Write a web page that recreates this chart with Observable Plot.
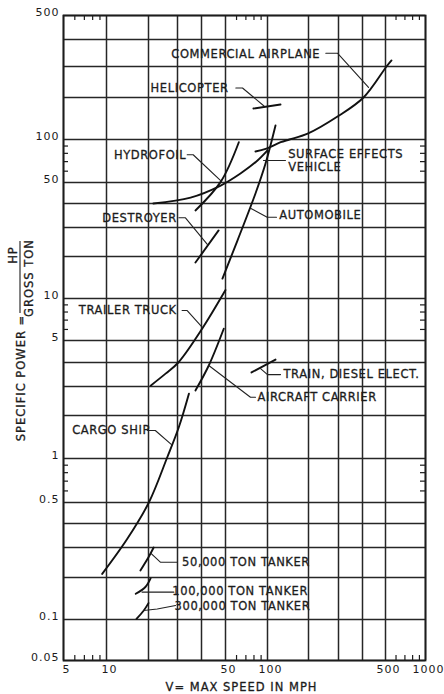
<!DOCTYPE html>
<html><head><meta charset="utf-8">
<script src="https://cdn.jsdelivr.net/npm/d3@7"></script>
<script src="https://cdn.jsdelivr.net/npm/@observablehq/plot@0.6"></script>
<style>
html,body{margin:0;padding:0;background:#fff;}
#chart svg{display:block;}
</style></head><body><div id="chart"></div>
<script>
// ---- grid / ticks ----
const xGrid = [5,10,20,30,40,50,100,200,300,400,500,1000];
const yGrid = [0.05,0.1,0.2,0.3,0.4,0.5,1,2,3,4,5,10,20,30,40,50,100,200,300,400,500];
const xTickLabels = [5,10,50,100,500,1000];
const yTickLabels = [0.05,0.1,0.5,1,5,10,50,100,500];
const xMinor = [6,7,8,9,60,70,80,90,600,700,800,900];
const yMinor = [0.6,0.7,0.8,0.9,6,7,8,9,60,70,80,90];

// ---- curves: [speed (mph), specific power (HP / gross ton)] ----
const commercialAirplane = [[82,82.4],[97,86],[125,95.7],[145,100],[197,110],[296,146],[404,200],[509,300],[555,320]];
const surfaceEffectsVehicle = [[21.4,40],[35.1,42.6],[47.8,48.4],[64,57.8],[84.8,71.2],[100,83.8]];
const helicopter = [[79.3,166.7],[124.6,178]];
const hydrofoil = [[37.2,36.8],[47.8,50.5],[62.3,95.7]];
const destroyer = [[37.2,18.1],[46.9,28.8]];
const automobile = [[48.6,13.9],[60.9,25],[82,44.5],[96.8,67.9],[114.5,126]];
const trailerTruck = [[20.6,3.03],[25.4,3.5],[30.3,4.0],[40.3,6.1],[50,11.5]];
const aircraftCarrier = [[37.2,2.84],[42.8,3.86],[49.2,6.07]];
const trainDieselElect = [[76.8,3.55],[114.5,4.12]];
const cargoShip = [[9.33,0.21],[14.1,0.333],[20.1,0.5],[26,1.02],[30.5,1.66],[34.4,2.71]];
const tanker50k = [[17.5,0.22],[20,0.263],[21.5,0.3]];
const tanker100k = [[16.2,0.153],[19,0.171],[20.6,0.197]];
const tanker300k = [[16.4,0.101],[18.5,0.116],[20,0.131]];

// ---- leader lines (same units) ----
const airplaneLeader = [[252.7,345.6],[295.8,345.6],[424,228]];
const helicopterLeader = [[59.3,226.5],[66.2,226.5],[94.4,173.8]];
const hydrofoilLeader = [[33.7,78.2],[36.2,78.2],[47.8,51.6]];
const sevLeader = [[135.5,71.2],[93.6,71.2]];
const destroyerLeader = [[30.5,33.7],[33,33.7],[42.3,23.6]];
const automobileLeader = [[116.4,33.9],[99.5,33.9],[75.5,37.8]];
const truckLeader = [[31.7,8.2],[33.7,8.2],[40.3,6.2]];
const carrierLeader = [[42.8,3.86],[75.5,2.58],[82,2.58]];
const trainLeader = [[89.2,3.72],[100,3.46],[124.6,3.46]];
const cargoLeader = [[19.6,1.57],[22,1.57],[27.6,1.25]];
const tanker50Leader = [[20.7,0.277],[23.6,0.246],[29.9,0.246]];
const tanker100Leader = [[18,0.157],[28.5,0.157]];
const tanker300Leader = [[18.5,0.116],[22.6,0.119],[29.2,0.126]];

// ---- labels ----
const labelText = ["COMMERCIAL AIRPLANE","HELICOPTER","HYDROFOIL","SURFACE EFFECTS","VEHICLE","DESTROYER","AUTOMOBILE","TRAILER TRUCK","TRAIN, DIESEL ELECT.","AIRCRAFT CARRIER","CARGO SHIP","50,000 TON TANKER","100,000 TON TANKER","300,000 TON TANKER"];
const labelSpeed = [27.5,20.6,11.3,141.9,141.9,9.33,121.8,6.4,131,84.7,5.75,31.7,27.9,28.8];
const labelPower = [340,225,76.9,78.5,63.7,33.5,34.6,8.2,3.46,2.58,1.57,0.246,0.16,0.1245];

const xTitle = "V= MAX SPEED IN MPH";
const yTitle = "SPECIFIC POWER =";
const yTitleNum = "HP";
const yTitleDen = "GROSS TON";

// ---- tables ----
const curves = [
  ["Commercial airplane", commercialAirplane],["Surface effects vehicle", surfaceEffectsVehicle],
  ["Helicopter", helicopter],["Hydrofoil", hydrofoil],["Destroyer", destroyer],["Automobile", automobile],
  ["Trailer truck", trailerTruck],["Aircraft carrier", aircraftCarrier],["Train", trainDieselElect],
  ["Cargo ship", cargoShip],["50,000 ton tanker", tanker50k],["100,000 ton tanker", tanker100k],["300,000 ton tanker", tanker300k]
].flatMap(([name, pts]) => pts.map(([v, p]) => ({name, v, p})));

const leaders = [airplaneLeader,helicopterLeader,hydrofoilLeader,sevLeader,destroyerLeader,automobileLeader,
  truckLeader,carrierLeader,trainLeader,cargoLeader,tanker50Leader,tanker100Leader,tanker300Leader]
  .flatMap((pts, i) => pts.map(([v, p]) => ({id: i, v, p})));

const labels = labelText.map((t, i) => ({t, v: labelSpeed[i], p: labelPower[i]}));

const ink = "#1c1c1c";
const FONT = "DejaVu Sans";
const titleStyle = {fontSize: 11.5, fill: ink, stroke: ink, strokeWidth: 0.3, textAnchor: "middle", lineAnchor: "middle"};

const plot = Plot.plot({
  width: 444, height: 694,
  marginLeft: 63, marginRight: 19, marginTop: 15, marginBottom: 34,
  style: {fontFamily: FONT, fontSize: "11px", color: ink, background: "#fff", letterSpacing: "1px"},
  x: {type: "log", domain: xGrid, range: [63,106,148,177,201,225,267,308,338,362,385,425], axis: null},
  y: {type: "log", domain: yGrid, range: [660,619,577,547,523,502,458,415,386,362,340,298,256,227,203,182,139,97,66,39,15], axis: null},
  marks: [
    Plot.ruleX(xGrid, {stroke: "#262626", strokeWidth: 1.5}),
    Plot.ruleY(yGrid, {stroke: "#262626", strokeWidth: 1.5}),
    Plot.tickX(xMinor, {stroke: ink, strokeWidth: 1.2, insetTop: 640}),
    Plot.tickX(xMinor, {stroke: ink, strokeWidth: 1.2, insetBottom: 640}),
    Plot.tickY(yMinor, {stroke: ink, strokeWidth: 1.2, insetRight: 357}),
    Plot.tickY(yMinor, {stroke: ink, strokeWidth: 1.2, insetLeft: 357}),
    Plot.frame({stroke: ink, strokeWidth: 1.8}),
    Plot.line(curves, {x: "v", y: "p", z: "name", curve: "catmull-rom", stroke: "#111", strokeWidth: 1.9}),
    Plot.line(leaders, {x: "v", y: "p", z: "id", stroke: "#222", strokeWidth: 1.1}),
    Plot.text(labels, {x: "v", y: "p", text: "t", textAnchor: "start", lineAnchor: "middle", fontSize: 11.5, fill: ink, stroke: ink, strokeWidth: 0.3}),
    Plot.axisX(xTickLabels, {anchor: "bottom", tickSize: 0, tickPadding: 5, dx: 3, text: d => String(d), label: null, fontSize: 11, fill: ink}),
    Plot.axisY(yTickLabels, {anchor: "left", tickSize: 0, tickPadding: 4, dy: -3, text: d => String(d), label: null, fontSize: 11, fill: ink}),
    Plot.text([xTitle], {frameAnchor: "bottom", dx: -3, dy: 27, ...titleStyle}),
    Plot.text([yTitle], {frameAnchor: "left", rotate: -90, dx: -42, dy: 40, ...titleStyle}),
    Plot.text([yTitleNum], {frameAnchor: "left", rotate: -90, dx: -50, dy: -83, ...titleStyle}),
    Plot.text([yTitleDen], {frameAnchor: "left", rotate: -90, dx: -34, dy: -60, ...titleStyle})
  ]
});

// tighter letter spacing for the curve labels
d3.select(plot).selectAll("text")
  .filter(function () { return labelText.includes(this.textContent); })
  .style("letter-spacing", "0.6px");

// fraction bar of the y-axis title
d3.select(plot).append("line")
  .attr("x1", 20).attr("x2", 20).attr("y1", 241).attr("y2", 313)
  .attr("stroke", ink).attr("stroke-width", 1.1);

document.getElementById("chart").appendChild(plot);
</script></body></html>
